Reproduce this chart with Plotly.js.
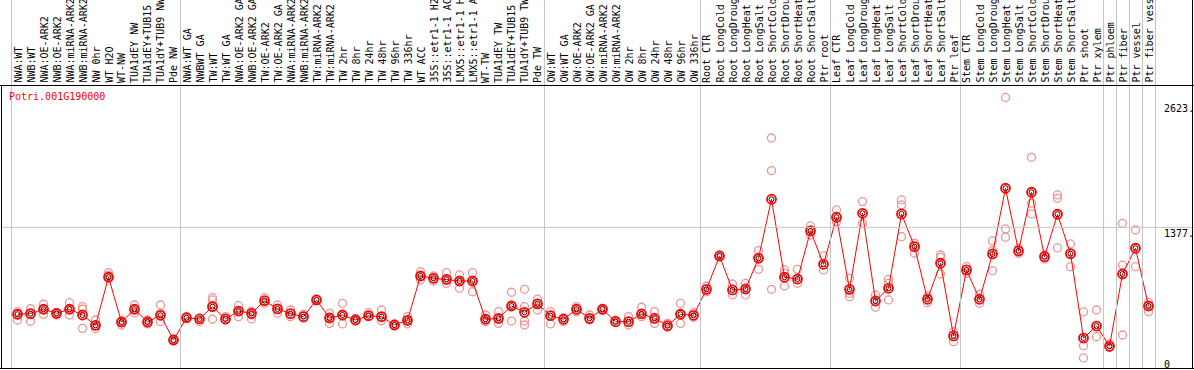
<!DOCTYPE html>
<html>
<head>
<meta charset="utf-8">
<script src="https://cdn.plot.ly/plotly-3.0.1.min.js"></script>
<style>
html,body{margin:0;padding:0;background:#fff;}
#chart{width:1194px;height:370px;}
</style>
</head>
<body>
<div id="chart"></div>
<script>
const geneId = "Potri.001G190000";

const categories = [
"NWA:WT","NWB:WT","NWA:OE-ARK2","NWB:OE-ARK2","NWA:miRNA-ARK2","NWB:miRNA-ARK2","NW 0hr","WT H2O","WT-NW","TUA1dEY NW","TUA1dEY+TUB15 NW","TUA1dY+TUB9 NW","Pde NW",
"NWA:WT GA","NWBWT GA","TW:WT","TW:WT GA","NWA:OE-ARK2 GA","NWB:OE-ARK2 GA","TW:OE-ARK2","TW:OE-ARK2 GA","NWA:miRNA-ARK2 GA","NWB:miRNA-ARK2 GA","TW:miRNA-ARK2","TW:miRNA-ARK2 GA","TW 2hr","TW 8hr","TW 24hr","TW 48hr","TW 96hr","TW 336hr","WT ACC","35S::etr1-1 H2O","35S::etr1-1 ACC","LMX5::etr1-1 H2O","LMX5::etr1-1 ACC","WT-TW","TUA1dEY TW","TUA1dEY+TUB15 TW","TUA1dY+TUB9 TW","Pde TW",
"OW:WT","OW:WT GA","OW:OE-ARK2","OW:OE-ARK2 GA","OW:miRNA-ARK2","OW:miRNA-ARK2 GA","OW 2hr","OW 8hr","OW 24hr","OW 48hr","OW 96hr","OW 336hr",
"Root CTR","Root LongCold","Root LongDrought","Root LongHeat","Root LongSalt","Root ShortCold","Root ShortDrought","Root ShortHeat","Root ShortSalt","Ptr root",
"Leaf CTR","Leaf LongCold","Leaf LongDrought","Leaf LongHeat","Leaf LongSalt","Leaf ShortCold","Leaf ShortDrought","Leaf ShortHeat","Leaf ShortSalt","Ptr leaf",
"Stem CTR","Stem LongCold","Stem LongDrought","Stem LongHeat","Stem LongSalt","Stem ShortCold","Stem ShortDrought","Stem ShortHeat","Stem ShortSalt","Ptr shoot","Ptr xylem",
"Ptr phloem","Ptr fiber","Ptr vessel","Ptr fiber vessel"
];

// number of categories in each separated group (left to right)
const groupSizes = [13, 28, 12, 10, 10, 11, 1, 1, 1, 1];

const means = [
544,550,592,553,592,537,438,899,470,592,470,534,297,
511,499,617,499,575,553,674,595,550,521,681,508,537,489,530,521,441,486,911,889,879,863,863,496,505,623,563,644,
530,496,592,505,592,473,473,547,505,434,544,534,
783,1103,777,786,1081,1647,899,882,1343,1023,
1474,783,1512,671,793,1506,1192,688,1033,336,
969,688,1122,1752,1151,1714,1096,1503,1125,316,431,
237,930,1177,623
];

const replicates = [
[569,544,489],[597,550,477],[640,592,544],[559,537,553],[655,592,537],[617,592,409],[489,438,406],[943,918,899],[480,441,470],[633,592,556],[489,470,451],[633,553,473],[297,307,288],
[521,505],[505,473],[703,681,617,496],[521,489],[626,575,521],[575,537,499],[703,674,649],[633,595,553],[585,521],[544,505],[688,674],[553,508,457],[649,537,451],[505,482],[559,521],[585,521,482],[451,432],[521,486,451],[952,911,873],[911,889,863],[943,879,841],[921,863,793],[943,863,760],[537,496,473],[569,505,457],[755,623,479],[783,617,479,441],[690,649,585],
[569,530,451],[511,473],[617,569],[537,489],[601,585],[489,463],[521,441],[611,547,521],[569,505,457],[457,419],[649,544,457],[559,515],
[815,760],[1112,1093],[834,729],[841,729],[1154,1081,975],[2234,1921,783],[969,937,815],[975,841],[1391,1352,1304],[1103,969],
[1544,1432],[889,745,713],[1624,1416],[729,611],[879,841,681],[1640,1592,1288],[1225,1129],[719,655],[1112,1090,930],[377,281],
[1000,937],[736,649],[1247,1154,962],[2623,1362,1282],[1177,1129],[2049,1608,1506],[1112,1074],[1688,1656,1180],[1218,1000],[566,243,125],[585,329],
[259,227],[1416,1016,345],[1352,1000],[655,569]
];

const yTickValues = [0, 1377, 2623];
const yTickLabels = ["0", "1377.", "2623."];

// ---------- build ----------
const W = 1194, H = 370;
const idx = categories.map((_, i) => i);
const repX = [], repY = [];
replicates.forEach((arr, i) => arr.forEach(v => { repX.push(i); repY.push(v); }));

const mono = "DejaVu Sans Mono, Liberation Mono, monospace";
const pxX = p => p / W;              // pixel -> paper x
const pxY = p => (H - p) / H;        // pixel (from top) -> paper y

const traces = [
  {x: repX, y: repY, type: "scatter", mode: "markers", hoverinfo: "skip",
   marker: {symbol: "circle-open", size: 8, color: "#eb9696", line: {width: 1.3, color: "#eb9696"}}},
  {x: idx, y: means, type: "scatter", mode: "lines", hoverinfo: "skip",
   line: {color: "#ff0000", width: 1}},
  {x: idx, y: means, type: "scatter", mode: "markers", hoverinfo: "skip",
   marker: {symbol: "circle-open", size: 5, color: "#400000", line: {width: 1, color: "#400000"}}},
  {x: idx, y: means, type: "scatter", mode: "markers", hoverinfo: "skip",
   marker: {symbol: "circle-open", size: 9, color: "#ff0000", line: {width: 1.8, color: "#ff0000"}}}
];

const shapes = [];
// group separators
let b = -0.5;
const breaks = [b];
groupSizes.forEach(s => { b += s; breaks.push(b); });
breaks.forEach(v => shapes.push({type: "line", xref: "x", yref: "paper",
  x0: v + 0.5/13, x1: v + 0.5/13, y0: pxY(368.5), y1: 1, line: {color: "#c4c4c4", width: 1}}));
// horizontal reference at middle tick
shapes.push({type: "line", xref: "paper", yref: "y", x0: pxX(1), x1: 1,
  y0: yTickValues[1], y1: yTickValues[1], line: {color: "#c4c4c4", width: 1}});
// frame
shapes.push({type: "line", xref: "paper", yref: "paper", x0: 0, x1: 1, y0: pxY(85.5), y1: pxY(85.5), line: {color: "#000", width: 1}});
shapes.push({type: "line", xref: "paper", yref: "paper", x0: 0, x1: 1, y0: pxY(368.5), y1: pxY(368.5), line: {color: "#000", width: 1}});
shapes.push({type: "line", xref: "paper", yref: "paper", x0: pxX(1.5), x1: pxX(1.5), y0: pxY(368.5), y1: pxY(85.5), line: {color: "#000", width: 1}});
shapes.push({type: "line", xref: "paper", yref: "paper", x0: pxX(1192.5), x1: pxX(1192.5), y0: pxY(368.5), y1: 1, line: {color: "#000", width: 1}});

const annotations = [];
categories.forEach((c, i) => annotations.push({
  x: i, xref: "x", y: pxY(83), yref: "paper", text: c, textangle: -90,
  xanchor: "center", yanchor: "bottom", showarrow: false, borderpad: 0, borderwidth: 0,
  font: {family: mono, size: 10, color: "#000"}
}));
annotations.push({x: pxX(8), xref: "paper", y: pxY(90), yref: "paper", text: geneId,
  xanchor: "left", yanchor: "top", showarrow: false, borderpad: 0,
  font: {family: mono, size: 10, color: "#ff0000"}});
const labelTop = [358, 227, 102];
yTickValues.forEach((v, k) => annotations.push({
  x: pxX(1163), xref: "paper", y: pxY(labelTop[k]), yref: "paper", text: yTickLabels[k],
  xanchor: "left", yanchor: "top", showarrow: false, borderpad: 0,
  font: {family: mono, size: 10, color: "#000"}
}));

const layout = {
  width: W, height: H,
  margin: {l: 0, r: 0, t: 0, b: 0, pad: 0},
  paper_bgcolor: "#fff", plot_bgcolor: "#fff",
  showlegend: false,
  xaxis: {range: [-17.5/13, -17.5/13 + W/13], visible: false, showgrid: false, zeroline: false, fixedrange: true},
  yaxis: {range: [9.6, 3557], visible: false, showgrid: false, zeroline: false, fixedrange: true},
  shapes: shapes,
  annotations: annotations
};

Plotly.newPlot("chart", traces, layout, {displayModeBar: false, staticPlot: true});
</script>
</body>
</html>
